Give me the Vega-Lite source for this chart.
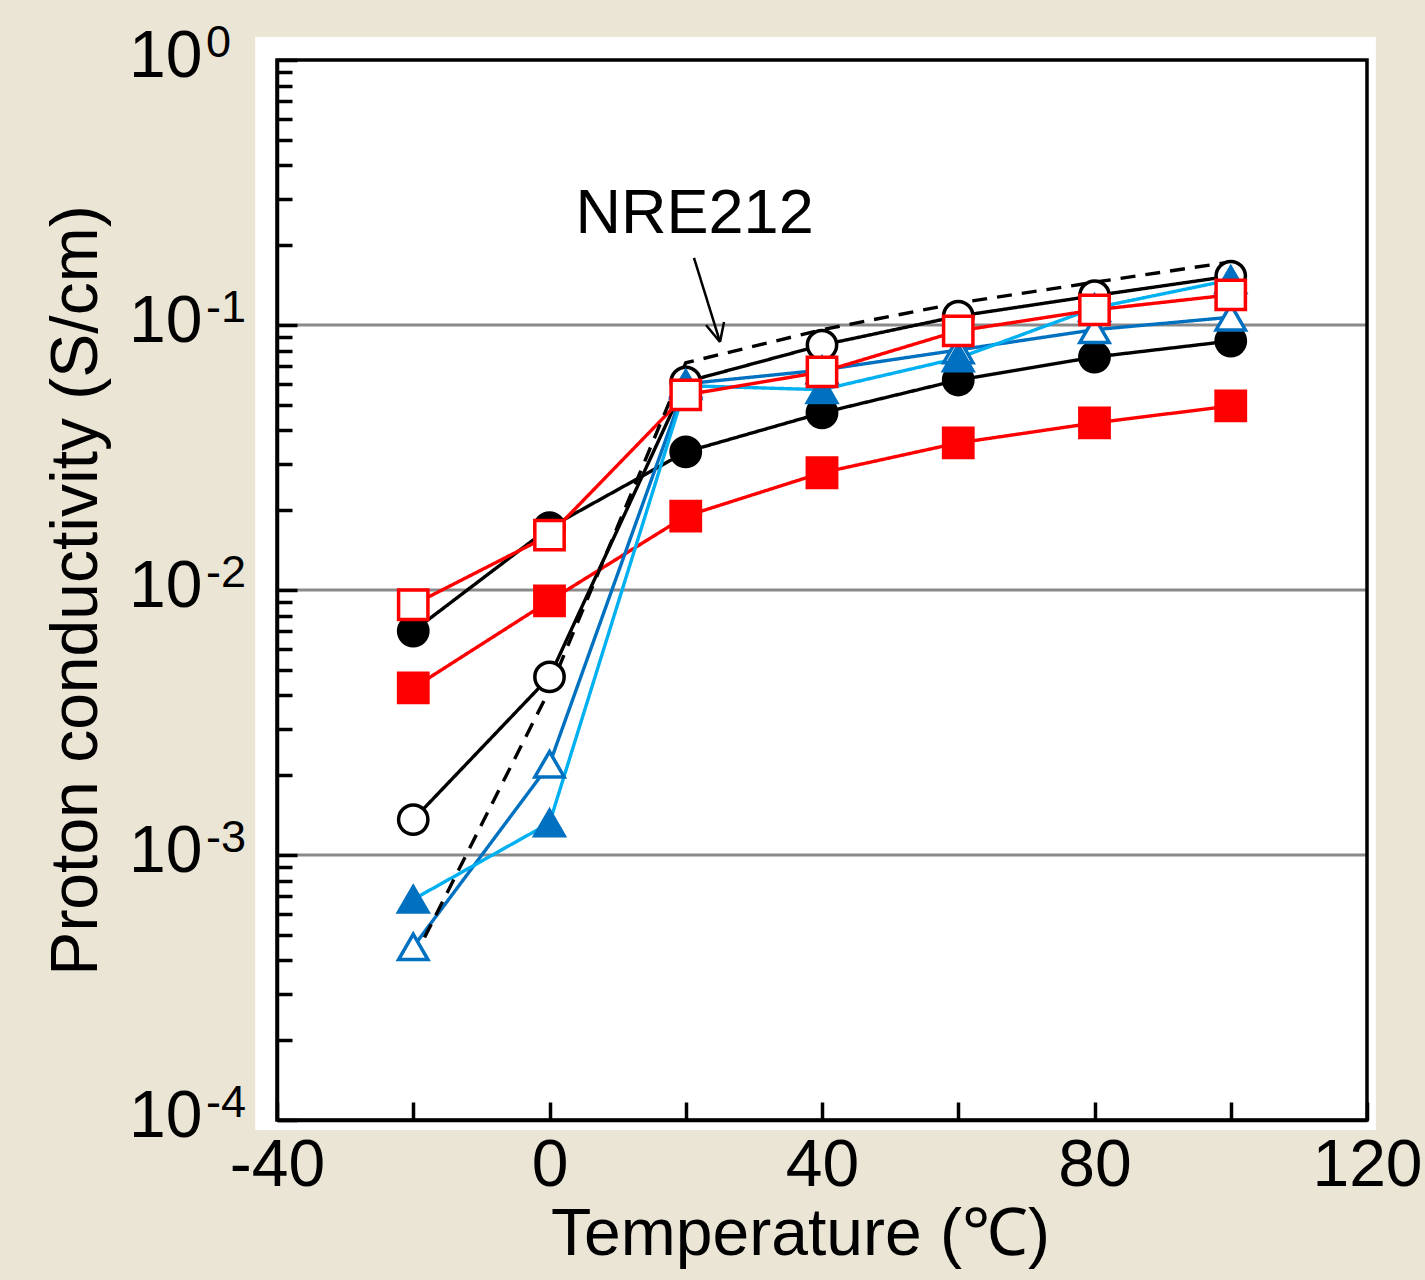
{
  "$schema": "https://vega.github.io/schema/vega-lite/v6.json",
  "width": 1090,
  "height": 1060,
  "autosize": {"type": "none"},
  "padding": {"left": 277, "top": 60, "right": 58, "bottom": 160},
  "background": "#ebe5d6",
  "config": {
    "view": {"stroke": null},
    "font": "Liberation Sans",
    "axis": {
      "domainColor": "black", "domainWidth": 3.5, "tickColor": "black", "tickWidth": 3.5,
      "labelColor": "black", "titleColor": "black", "labelFont": "Liberation Sans",
      "titleFont": "Liberation Sans", "titleFontWeight": "normal", "grid": false, "zindex": 1, "ticks": true
    }
  },
  "datasets": {
    "panel": [{"x": -43.2, "x2": 121.3, "y": 1.22, "y2": 0.0000917}],
    "frame": [{"x": -40, "x2": 120, "y": 1, "y2": 0.0001}],
    "main": [
      {"s": "A", "T": -20, "v": 0.0070}, {"s": "A", "T": 0, "v": 0.0172}, {"s": "A", "T": 20, "v": 0.0332}, {"s": "A", "T": 40, "v": 0.0466}, {"s": "A", "T": 60, "v": 0.062}, {"s": "A", "T": 80, "v": 0.0757}, {"s": "A", "T": 100, "v": 0.087},
      {"s": "B", "T": -20, "v": 0.00136}, {"s": "B", "T": 0, "v": 0.0047}, {"s": "B", "T": 20, "v": 0.061}, {"s": "B", "T": 40, "v": 0.084}, {"s": "B", "T": 60, "v": 0.108}, {"s": "B", "T": 80, "v": 0.129}, {"s": "B", "T": 100, "v": 0.153},
      {"s": "C", "T": -20, "v": 0.00427}, {"s": "C", "T": 0, "v": 0.0091}, {"s": "C", "T": 20, "v": 0.019}, {"s": "C", "T": 40, "v": 0.0277}, {"s": "C", "T": 60, "v": 0.0359}, {"s": "C", "T": 80, "v": 0.0427}, {"s": "C", "T": 100, "v": 0.0495},
      {"s": "F", "T": -20, "v": 0.00045}, {"s": "F", "T": 0, "v": 0.0022}, {"s": "F", "T": 20, "v": 0.06}, {"s": "F", "T": 40, "v": 0.0676}, {"s": "F", "T": 60, "v": 0.0805}, {"s": "F", "T": 80, "v": 0.096}, {"s": "F", "T": 100, "v": 0.107},
      {"s": "E", "T": -20, "v": 0.00068}, {"s": "E", "T": 0, "v": 0.00132}, {"s": "E", "T": 20, "v": 0.059}, {"s": "E", "T": 40, "v": 0.057}, {"s": "E", "T": 60, "v": 0.075}, {"s": "E", "T": 80, "v": 0.116}, {"s": "E", "T": 100, "v": 0.148},
      {"s": "D", "T": -20, "v": 0.0088}, {"s": "D", "T": 0, "v": 0.0161}, {"s": "D", "T": 20, "v": 0.0545}, {"s": "D", "T": 40, "v": 0.0665}, {"s": "D", "T": 60, "v": 0.095}, {"s": "D", "T": 80, "v": 0.114}, {"s": "D", "T": 100, "v": 0.13},
      {"s": "NRE212", "T": -20, "v": 0.000402}, {"s": "NRE212", "T": 0, "v": 0.0042}, {"s": "NRE212", "T": 20, "v": 0.072}, {"s": "NRE212", "T": 40, "v": 0.096}, {"s": "NRE212", "T": 60, "v": 0.121}, {"s": "NRE212", "T": 80, "v": 0.145}, {"s": "NRE212", "T": 100, "v": 0.173}
    ],
    "gridlines": [{"g": 0.1}, {"g": 0.01}, {"g": 0.001}],
    "exponents": [{"v": 1, "e": "0"}, {"v": 0.1, "e": "-1"}, {"v": 0.01, "e": "-2"}, {"v": 0.001, "e": "-3"}, {"v": 0.0001, "e": "-4"}],
    "arrow": [
      {"x": 21.21, "y": 0.179, "x2": 25.03, "y2": 0.0863},
      {"x": 22.97, "y": 0.1, "x2": 25.03, "y2": 0.0863},
      {"x": 25.62, "y": 0.1026, "x2": 25.03, "y2": 0.0863}
    ],
    "note": [{"T": 21.3, "v": 0.2224, "label": "NRE212"}]
  },
  "layer": [
    {
      "data": {"name": "panel"},
      "mark": {"type": "rect", "color": "white", "clip": false},
      "encoding": {
        "x": {"field": "x", "type": "quantitative", "scale": {"domain": [-40, 120], "nice": false, "zero": false}},
        "x2": {"field": "x2"},
        "y": {"field": "y", "type": "quantitative", "scale": {"type": "log", "domain": [0.0001, 1], "nice": false}},
        "y2": {"field": "y2"}
      }
    },
    {
      "data": {"name": "gridlines"},
      "mark": {"type": "rule", "color": "#8a8a8a", "strokeWidth": 3},
      "encoding": {
        "y": {"field": "g", "type": "quantitative", "scale": {"type": "log", "domain": [0.0001, 1], "nice": false}}
      }
    },
    {
      "data": {"name": "main"},
      "mark": {"type": "line", "strokeWidth": 3.4},
      "encoding": {
        "x": {
          "field": "T", "type": "quantitative",
          "scale": {"domain": [-40, 120], "nice": false, "zero": false},
          "axis": {
            "zindex": 2,
            "values": [-40, -20, 0, 20, 40, 60, 80, 100, 120],
            "labelExpr": "datum.value % 40 == 0 ? '' + datum.value : ''",
            "ticks": true, "tickSize": -18, "tickColor": "black", "tickWidth": 3.5,
            "labelPadding": 31, "labelFontSize": 66,
            "labelFlush": false, "labelOverlap": false, "labelBound": false,
            "title": "Temperature (℃)", "titleFontSize": 66, "titlePadding": 4,
            "titleX": 523, "titleAnchor": "middle"
          }
        },
        "y": {
          "field": "v", "type": "quantitative",
          "scale": {"type": "log", "domain": [0.0001, 1], "nice": false},
          "axis": {
            "zindex": 2,
            "values": [0.0001, 0.0002, 0.0003, 0.0004, 0.0005, 0.0006, 0.0007, 0.0008, 0.0009,
                       0.001, 0.002, 0.003, 0.004, 0.005, 0.006, 0.007, 0.008, 0.009,
                       0.01, 0.02, 0.03, 0.04, 0.05, 0.06, 0.07, 0.08, 0.09,
                       0.1, 0.2, 0.3, 0.4, 0.5, 0.6, 0.7, 0.8, 0.9, 1],
            "labelExpr": "abs(log(datum.value)/LN10 - round(log(datum.value)/LN10)) < 0.001 ? '10' : ''",
            "ticks": true, "tickColor": "black", "tickWidth": 3.5,
            "tickSize": {"condition": {"test": "abs(log(datum.value)/LN10 - round(log(datum.value)/LN10)) < 0.001", "value": -20}, "value": -15},
            "labelPadding": 95, "labelFontSize": 66, "labelBaseline": "middle", "labelOffset": -4,
            "labelFlush": false, "labelOverlap": false, "labelBound": false,
            "title": "Proton conductivity (S/cm)", "titleFontSize": 66, "titlePadding": 18
          }
        },
        "color": {"field": "s", "type": "nominal", "legend": null,
          "scale": {"domain": ["A", "B", "C", "D", "E", "F", "NRE212"], "range": ["black", "black", "#ff0000", "#ff0000", "#00b0f0", "#0070c0", "black"]}},
        "strokeDash": {"field": "s", "type": "nominal", "legend": null,
          "scale": {"domain": ["A", "B", "C", "D", "E", "F", "NRE212"], "range": [[1, 0], [1, 0], [1, 0], [1, 0], [1, 0], [1, 0], [15, 10]]}}
      }
    },
    {
      "data": {"name": "main"},
      "transform": [{"filter": "datum.s != 'NRE212'"}],
      "mark": {"type": "point", "opacity": 1, "strokeWidth": 3.5, "size": 860},
      "encoding": {
        "x": {"field": "T", "type": "quantitative", "scale": {"domain": [-40, 120], "nice": false, "zero": false}},
        "y": {"field": "v", "type": "quantitative", "scale": {"type": "log", "domain": [0.0001, 1], "nice": false}},
        "shape": {"field": "s", "type": "nominal", "legend": null,
          "scale": {"domain": ["A", "B", "C", "D", "E", "F"], "range": ["circle", "circle", "square", "square", "triangle-up", "triangle-up"]}},
        "fill": {"field": "s", "type": "nominal", "legend": null,
          "scale": {"domain": ["A", "B", "C", "D", "E", "F"], "range": ["black", "white", "#ff0000", "white", "#0070c0", "white"]}},
        "stroke": {"field": "s", "type": "nominal", "legend": null,
          "scale": {"domain": ["A", "B", "C", "D", "E", "F"], "range": ["black", "black", "#ff0000", "#ff0000", "#0070c0", "#0070c0"]}}
      }
    },
    {
      "data": {"name": "arrow"},
      "mark": {"type": "rule", "color": "black", "strokeWidth": 2.5},
      "encoding": {
        "x": {"field": "x", "type": "quantitative", "scale": {"domain": [-40, 120], "nice": false, "zero": false}},
        "y": {"field": "y", "type": "quantitative", "scale": {"type": "log", "domain": [0.0001, 1], "nice": false}},
        "x2": {"field": "x2"},
        "y2": {"field": "y2"}
      }
    },
    {
      "data": {"name": "note"},
      "mark": {"type": "text", "fontSize": 63, "align": "center", "baseline": "alphabetic", "color": "black", "font": "Liberation Sans"},
      "encoding": {
        "x": {"field": "T", "type": "quantitative", "scale": {"domain": [-40, 120], "nice": false, "zero": false}},
        "y": {"field": "v", "type": "quantitative", "scale": {"type": "log", "domain": [0.0001, 1], "nice": false}},
        "text": {"field": "label"}
      }
    },
    {
      "data": {"name": "exponents"},
      "mark": {"type": "text", "fontSize": 45, "align": "left", "baseline": "alphabetic", "color": "black", "font": "Liberation Sans", "dx": -71, "dy": -3, "clip": false},
      "encoding": {
        "x": {"datum": -40, "type": "quantitative", "scale": {"domain": [-40, 120], "nice": false, "zero": false}},
        "y": {"field": "v", "type": "quantitative", "scale": {"type": "log", "domain": [0.0001, 1], "nice": false}},
        "text": {"field": "e"}
      }
    },
    {
      "data": {"name": "frame"},
      "mark": {"type": "rect", "fill": null, "filled": false, "stroke": "black", "strokeWidth": 3.5, "clip": false},
      "encoding": {
        "x": {"field": "x", "type": "quantitative", "scale": {"domain": [-40, 120], "nice": false, "zero": false}},
        "x2": {"field": "x2"},
        "y": {"field": "y", "type": "quantitative", "scale": {"type": "log", "domain": [0.0001, 1], "nice": false}},
        "y2": {"field": "y2"}
      }
    }
  ]
}
